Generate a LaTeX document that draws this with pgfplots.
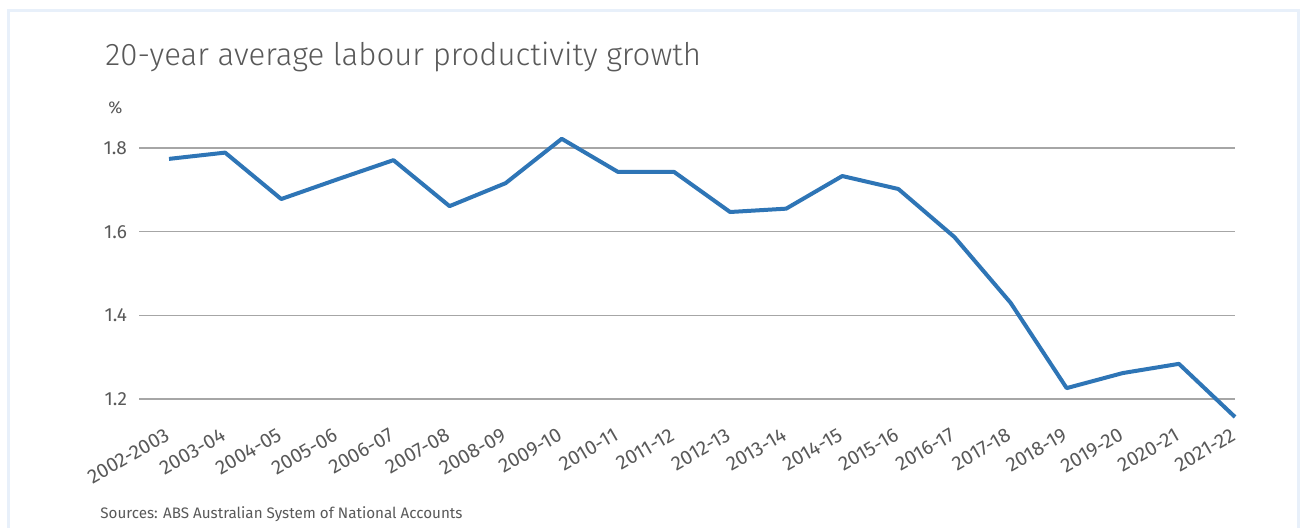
\documentclass[border=0pt]{standalone}
\usepackage{fontspec}
\setmainfont{Fira Sans}
\newfontfamily\lightfont{Fira Sans Light}
\usepackage{pgfplots}
\pgfplotsset{compat=1.18}
\definecolor{linecol}{HTML}{2E75B6}
\definecolor{txt}{HTML}{595959}
\definecolor{gridc}{HTML}{A6A6A6}
\definecolor{framec}{HTML}{E8F0FA}
\begin{document}
\begin{tikzpicture}[x=1pt,y=1pt]
\useasboundingbox (0,0) rectangle (650,264);
\fill[white] (0,0) rectangle (650,264);
\draw[framec, line width=1.5pt] (4,0) -- (4,258.5) -- (649.2,258.5) -- (649.2,0);
\begin{axis}[
  at={(69.5pt,64.5pt)}, anchor=south west,
  scale only axis, width=548pt, height=125.5pt,
  xmin=-0.535, xmax=19, ymin=1.2, ymax=1.8,
  clip=false,
  axis line style={draw=none},
  major tick style={draw=none},
  ytick={1.2,1.4,1.6,1.8},
  yticklabels={1.2,1.4,1.6,1.8},
  ymajorgrids, grid style={gridc, line width=0.7pt},
  yticklabel style={font=\fontsize{9.5}{10}\selectfont, text=txt, xshift=-2.5pt},
  xtick={0,...,19},
  xticklabels={2002-2003,2003-04,2004-05,2005-06,2006-07,2007-08,2008-09,2009-10,2010-11,2011-12,2012-13,2013-14,2014-15,2015-16,2016-17,2017-18,2018-19,2019-20,2020-21,2021-22},
  xticklabel style={font=\fontsize{10}{11}\selectfont, text=txt, xshift=-2.5pt, yshift=-14pt, rotate=30, anchor=north east, inner sep=0pt},
]
\addplot[linecol, line width=2pt, line join=round] coordinates {
(0,1.774) (1,1.789) (2,1.678) (3,1.725) (4,1.771) (5,1.661) (6,1.716) (7,1.822) (8,1.743) (9,1.743)
(10,1.647) (11,1.655) (12,1.733) (13,1.702) (14,1.587) (15,1.430) (16,1.226) (17,1.262) (18,1.284) (19,1.157)
};
\end{axis}
\node[anchor=base west, font=\lightfont\fontsize{15.6}{17}\selectfont, text=txt, inner sep=0pt] at (52.5,231) {20-year average labour productivity growth};
\node[anchor=base west, font=\fontsize{8.5}{10}\selectfont, text=txt, inner sep=0pt] at (54,207) {\%};
\node[anchor=base west, font=\fontsize{7.6}{9}\selectfont, text=txt, inner sep=0pt] at (50,4.5) {Sources: ABS Australian System of National Accounts};
\end{tikzpicture}
\end{document}
